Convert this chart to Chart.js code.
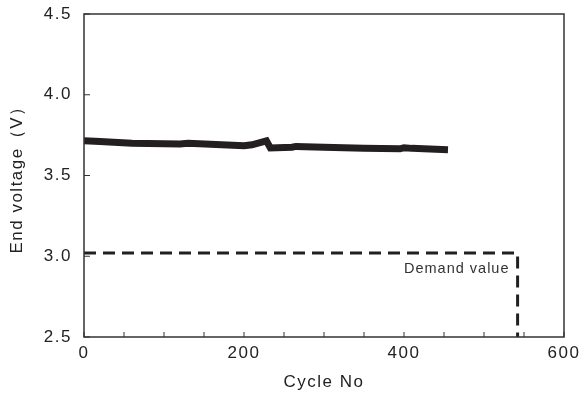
<!DOCTYPE html>
<html>
<head>
<meta charset="utf-8">
<script src="https://cdn.jsdelivr.net/npm/chart.js@4/dist/chart.umd.min.js"></script>
<style>
  html, body { margin: 0; padding: 0; background: #fff; }
  #wrap { width: 585px; height: 399px; }
</style>
</head>
<body>
<div id="wrap"><canvas id="chart"></canvas></div>
<script>
// 測定データ
const cycles = [0, 20, 60, 120, 130, 200, 210, 228, 233, 260, 265, 300, 350, 395, 400, 410, 455];
const voltages = [3.715, 3.71, 3.70, 3.695, 3.70, 3.685, 3.69, 3.715, 3.67, 3.675, 3.68, 3.675, 3.668, 3.665, 3.672, 3.668, 3.66];

// 要求値
const demandCycles = [0, 542, 542];
const demandVoltages = [3.02, 3.02, 2.5];
const demandLabel = 'Demand value';
const demandLabelPos = [400, 2.92];

const xLabeled = [0, 200, 400, 600];

const toPoints = (xs, ys) => xs.map((x, i) => ({ x: x, y: ys[i] }));

const frame = {
  id: 'frame',
  beforeDraw(chart) {
    chart.ctx.letterSpacing = '1.5px';
  },
  afterDraw(chart) {
    const { ctx, chartArea: a, scales } = chart;
    ctx.save();
    ctx.strokeStyle = '#333';
    ctx.lineWidth = 1.5;
    ctx.strokeRect(a.left, a.top, a.right - a.left, a.bottom - a.top);

    // 内向きの目盛り
    ctx.lineWidth = 1;
    ctx.beginPath();
    scales.x.ticks.forEach((t) => {
      const px = scales.x.getPixelForValue(t.value);
      ctx.moveTo(px, a.bottom);
      ctx.lineTo(px, a.bottom - 5);
    });
    scales.y.ticks.forEach((t) => {
      const py = scales.y.getPixelForValue(t.value);
      ctx.moveTo(a.left, py);
      ctx.lineTo(a.left + 6, py);
    });
    ctx.stroke();

    ctx.fillStyle = '#333';
    ctx.font = '14.5px "Liberation Sans", Arial, sans-serif';
    ctx.letterSpacing = '1px';
    ctx.textAlign = 'left';
    ctx.textBaseline = 'middle';
    ctx.fillText(
      demandLabel,
      scales.x.getPixelForValue(demandLabelPos[0]),
      scales.y.getPixelForValue(demandLabelPos[1])
    );
    ctx.restore();
  },
};

const font = { family: '"Liberation Sans", Arial, sans-serif', size: 17 };

new Chart(document.getElementById('chart').getContext('2d'), {
  type: 'scatter',
  data: {
    datasets: [
      {
        label: 'End voltage',
        data: toPoints(cycles, voltages),
        showLine: true,
        borderColor: '#231f20',
        borderWidth: 7,
        pointRadius: 0,
        tension: 0,
      },
      {
        label: demandLabel,
        data: toPoints(demandCycles, demandVoltages),
        showLine: true,
        borderColor: '#231f20',
        borderWidth: 3,
        borderDash: [12, 7],
        pointRadius: 0,
        tension: 0,
      },
    ],
  },
  options: {
    responsive: true,
    maintainAspectRatio: false,
    animation: false,
    layout: { padding: { top: 14, right: 21, left: 0, bottom: 0 } },
    plugins: {
      legend: { display: false },
      tooltip: { enabled: false },
    },
    scales: {
      x: {
        type: 'linear',
        min: 0,
        max: 600,
        grid: { display: false, drawTicks: false },
        border: { display: false },
        ticks: {
          stepSize: 50,
          padding: 6,
          color: '#222',
          font: font,
          maxRotation: 0,
          autoSkip: false,
          callback: (v) => (xLabeled.includes(v) ? String(v) : ''),
        },
        title: {
          display: true,
          text: 'Cycle No',
          color: '#222',
          font: font,
          padding: { top: 0, bottom: 6 },
        },
        afterFit: (scale) => {
          scale.height = 62;
          scale.paddingLeft = 0;
          scale.paddingRight = 0;
        },
      },
      y: {
        type: 'linear',
        min: 2.5,
        max: 4.5,
        grid: { display: false, drawTicks: false },
        border: { display: false },
        ticks: {
          stepSize: 0.5,
          padding: 12,
          color: '#222',
          font: font,
          callback: (v) => v.toFixed(1),
        },
        title: {
          display: true,
          text: 'End voltage（V）',
          color: '#222',
          font: font,
          padding: { top: 7, bottom: 0 },
        },
        afterFit: (scale) => {
          scale.width = 84;
          scale.paddingTop = 0;
          scale.paddingBottom = 0;
        },
      },
    },
  },
  plugins: [frame],
});
</script>
</body>
</html>
